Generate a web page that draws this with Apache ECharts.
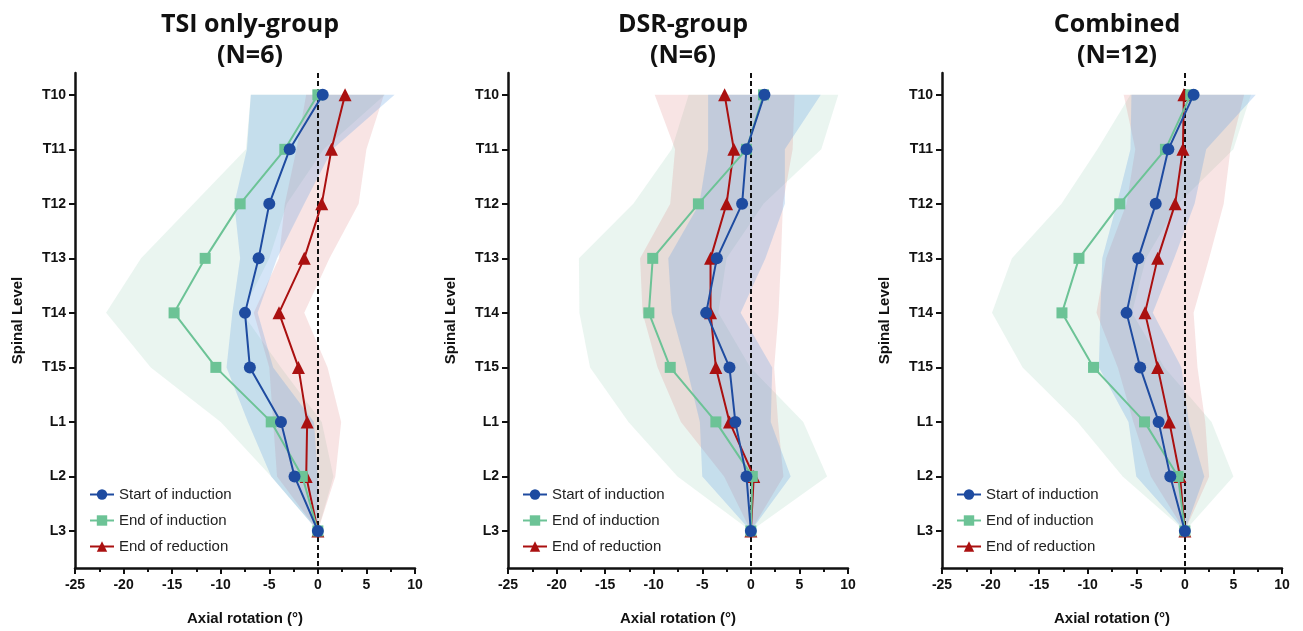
<!DOCTYPE html>
<html>
<head>
<meta charset="utf-8">
<script src="https://cdn.jsdelivr.net/npm/echarts@6/dist/echarts.min.js"></script>
<style>
html,body{margin:0;padding:0;background:#fff;}
#chart{width:1303px;height:631px;}
</style>
</head>
<body>
<div id="chart"></div>
<script>
// ---- data ----
const levels = ['T10','T11','T12','T13','T14','T15','L1','L2','L3'];
const xTicks = [-25,-20,-15,-10,-5,0,5,10];
const seriesNames = ['Start of induction','End of induction','End of reduction'];
const panelTitles = ['TSI only-group\n(N=6)','DSR-group\n(N=6)','Combined\n(N=12)'];

// TSI only-group
const tsiStartMean  = [0.5, -2.9, -5.0, -6.1, -7.5, -7.0, -3.8, -2.4, 0];
const tsiStartSD    = [7.4, 4.4, 3.6, 1.9, 1.3, 2.4, 3.4, 2.4, 0];
const tsiEndIndMean = [0.0, -3.4, -8.0, -11.6, -14.8, -10.5, -4.8, -1.6, 0];
const tsiEndIndSD   = [6.9, 4.0, 4.8, 6.6, 7.0, 6.7, 5.2, 3.2, 0];
const tsiEndRedMean = [2.8, 1.4, 0.4, -1.4, -4.0, -2.0, -1.1, -1.2, 0];
const tsiEndRedSD   = [4.0, 3.6, 3.8, 2.6, 2.6, 3.0, 3.5, 3.0, 0];

// DSR-group
const dsrStartMean  = [1.4, -0.45, -0.9, -3.5, -4.6, -2.2, -1.6, -0.45, 0];
const dsrStartSD    = [5.8, 3.95, 4.4, 5.0, 3.55, 4.4, 3.65, 4.55, 0];
const dsrEndIndMean = [1.3, -0.45, -5.4, -10.1, -10.5, -8.3, -3.6, 0.15, 0];
const dsrEndIndSD   = [7.7, 7.7, 6.7, 7.6, 7.15, 8.25, 9.0, 7.7, 0];
const dsrEndRedMean = [-2.7, -1.75, -2.5, -4.15, -4.15, -3.6, -2.2, 0.3, 0];
const dsrEndRedSD   = [7.2, 6.05, 5.8, 7.25, 7.0, 6.0, 5.0, 3.05, 0];

// Combined
const allStartMean  = [0.9, -1.7, -3.0, -4.8, -6.0, -4.6, -2.7, -1.5, 0];
const allStartSD    = [6.4, 3.9, 4.0, 3.7, 2.7, 4.25, 3.1, 3.5, 0];
const allEndIndMean = [0.6, -2.0, -6.7, -10.9, -12.65, -9.4, -4.15, -0.7, 0];
const allEndIndSD   = [6.2, 7.0, 6.0, 6.9, 7.2, 7.3, 6.9, 5.7, 0];
const allEndRedMean = [-0.1, -0.2, -1.0, -2.8, -4.1, -2.8, -1.6, -0.5, 0];
const allEndRedSD   = [6.2, 4.9, 5.0, 5.3, 5.0, 4.1, 3.7, 3.0, 0];

const panels = [
  {means:[tsiStartMean, tsiEndIndMean, tsiEndRedMean], sds:[tsiStartSD, tsiEndIndSD, tsiEndRedSD]},
  {means:[dsrStartMean, dsrEndIndMean, dsrEndRedMean], sds:[dsrStartSD, dsrEndIndSD, dsrEndRedSD]},
  {means:[allStartMean, allEndIndMean, allEndRedMean], sds:[allStartSD, allEndIndSD, allEndRedSD]}
];

// ---- style ----
const gridLefts = [75, 508, 942];
const gridW = 340, gridTop = 73, gridH = 495;
const lineColors = ['#1e4ba0', '#6cc396', '#aa1010'];
const bandColors = ['rgba(100,160,225,0.28)', 'rgba(140,200,170,0.18)', 'rgba(220,120,120,0.20)'];
const symbols = ['circle', 'rect', 'triangle'];
const symbolSizes = [12, 11, 13];
const bandOrder = [1, 2, 0];   // green, red, blue (blue on top)
const lineOrder = [2, 1, 0];   // red, green, blue

const chart = echarts.init(document.getElementById('chart'), null, {renderer:'canvas'});

const grids = [], xAxes = [], yAxes = [], series = [], titles = [], legends = [];
const axisFont = 'Liberation Sans, Arial, sans-serif';

gridLefts.forEach((gl, p) => {
  grids.push({left: gl, top: gridTop, width: gridW, height: gridH, containLabel: false});
  titles.push({
    text: panelTitles[p], left: gl + gridW / 2, top: 4, textAlign: 'center',
    textStyle: {fontFamily: 'Open Sans, sans-serif', fontSize: 25, fontWeight: 'bold', color: '#111', lineHeight: 31}
  });
  xAxes.push({
    type: 'value', gridIndex: p, min: -25, max: 10, interval: 5,
    name: 'Axial rotation (°)', nameLocation: 'middle', nameGap: 43,
    nameTextStyle: {fontFamily: axisFont, fontSize: 15, fontWeight: 'bold', color: '#111'},
    axisLine: {show: true, onZero: false, lineStyle: {color: '#111', width: 2.5}},
    axisTick: {show: true, length: 6, lineStyle: {color: '#111', width: 2}},
    minorTick: {show: true, splitNumber: 2, length: 4, lineStyle: {color: '#111', width: 2}},
    axisLabel: {margin: 10, fontFamily: axisFont, fontSize: 14, fontWeight: 'bold', color: '#111'},
    splitLine: {show: false}
  });
  yAxes.push({
    type: 'value', gridIndex: p, inverse: true, min: -0.4, max: 8.68,
    name: 'Spinal Level', nameLocation: 'middle', nameGap: 50, nameRotate: 90,
    nameTextStyle: {fontFamily: axisFont, fontSize: 15, fontWeight: 'bold', color: '#111'},
    axisLine: {show: true, onZero: false, lineStyle: {color: '#111', width: 2.5}},
    axisTick: {show: true, length: 6, lineStyle: {color: '#111', width: 2}, customValues: levels.map((_, i) => i)},
    axisLabel: {
      margin: 9, fontFamily: axisFont, fontSize: 14, fontWeight: 'bold', color: '#111',
      customValues: levels.map((_, i) => i),
      formatter: v => levels[Math.round(v)] || ''
    },
    splitLine: {show: false}
  });

  const P = panels[p];
  // bands
  bandOrder.forEach(s => {
    const lo = P.means[s].map((m, i) => m - P.sds[s][i]);
    const hi = P.means[s].map((m, i) => m + P.sds[s][i]);
    const col = bandColors[s];
    series.push({
      type: 'custom', name: 'band' + p + s, xAxisIndex: p, yAxisIndex: p,
      silent: true, z: 1, clip: true,
      data: levels.map((_, i) => [lo[i], hi[i], i]),
      encode: {x: [0, 1], y: 2},
      renderItem: (params, api) => {
        if (params.dataIndex !== 0) return null;
        const pts = [];
        for (let i = 0; i < levels.length; i++) pts.push(api.coord([hi[i], i]));
        for (let i = levels.length - 1; i >= 0; i--) pts.push(api.coord([lo[i], i]));
        return {type: 'polygon', shape: {points: pts}, style: {fill: col}};
      }
    });
  });
  // lines
  lineOrder.forEach((s, k) => {
    const ser = {
      type: 'line', name: seriesNames[s], xAxisIndex: p, yAxisIndex: p, z: 5 + k,
      data: P.means[s].map((m, i) => [m, i]),
      symbol: symbols[s], symbolSize: symbolSizes[s], showSymbol: true,
      lineStyle: {color: lineColors[s], width: 2},
      itemStyle: {color: lineColors[s], borderWidth: 0},
      emphasis: {disabled: true},
      animation: false
    };
    if (k === 0) {
      ser.markLine = {
        silent: true, symbol: 'none', animation: false,
        label: {show: false},
        lineStyle: {color: '#111', type: [5, 3], width: 2},
        data: [{xAxis: 0}]
      };
    }
    series.push(ser);
  });

  legends.push({
    orient: 'vertical', left: gl + 9, top: 482,
    data: seriesNames, itemWidth: 24, itemHeight: 13, itemGap: 11,
    textStyle: {fontFamily: axisFont, fontSize: 15, color: '#222'},
    selectedMode: false
  });
});

chart.setOption({
  animation: false,
  backgroundColor: '#fff',
  title: titles,
  grid: grids,
  xAxis: xAxes,
  yAxis: yAxes,
  legend: legends,
  series: series
});
</script>
</body>
</html>
